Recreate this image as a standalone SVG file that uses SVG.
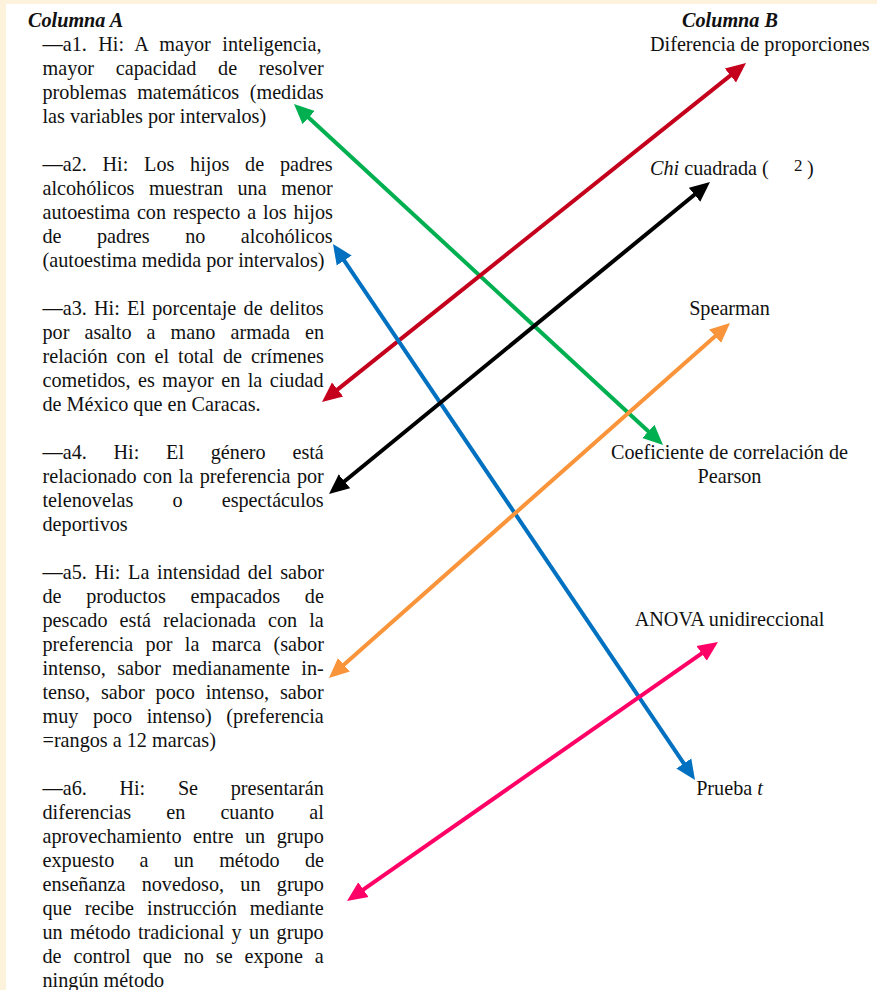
<svg xmlns="http://www.w3.org/2000/svg" width="877" height="990" viewBox="0 0 877 990">
<style>
text{font-family:"Liberation Serif","Times New Roman",serif;font-size:20.2px;fill:#111}
.h{font-weight:bold;font-style:italic}
.r{text-anchor:middle}
.c{fill:none;stroke-width:4}
</style>
<defs>
<marker id="mr" markerUnits="userSpaceOnUse" markerWidth="22" markerHeight="20" viewBox="0 -10 22 20" refX="5" refY="0" orient="auto-start-reverse"><path d="M0,-9 L20,0 L0,9 Z" fill="#C4001C"/></marker>
<marker id="mg" markerUnits="userSpaceOnUse" markerWidth="22" markerHeight="20" viewBox="0 -10 22 20" refX="5" refY="0" orient="auto-start-reverse"><path d="M0,-9 L20,0 L0,9 Z" fill="#00B050"/></marker>
<marker id="mb" markerUnits="userSpaceOnUse" markerWidth="22" markerHeight="20" viewBox="0 -10 22 20" refX="5" refY="0" orient="auto-start-reverse"><path d="M0,-9 L20,0 L0,9 Z" fill="#0070C0"/></marker>
<marker id="mk" markerUnits="userSpaceOnUse" markerWidth="22" markerHeight="20" viewBox="0 -10 22 20" refX="5" refY="0" orient="auto-start-reverse"><path d="M0,-9 L20,0 L0,9 Z" fill="#000"/></marker>
<marker id="mo" markerUnits="userSpaceOnUse" markerWidth="22" markerHeight="20" viewBox="0 -10 22 20" refX="5" refY="0" orient="auto-start-reverse"><path d="M0,-9 L20,0 L0,9 Z" fill="#F9943B"/></marker>
<marker id="mp" markerUnits="userSpaceOnUse" markerWidth="22" markerHeight="20" viewBox="0 -10 22 20" refX="5" refY="0" orient="auto-start-reverse"><path d="M0,-9 L20,0 L0,9 Z" fill="#FF0066"/></marker>
</defs>
<rect x="0" y="0" width="877" height="990" fill="#FDF3DC"/>
<rect x="6" y="4" width="871" height="986" fill="#fff"/>

<g id="headerA"><text class="h" x="28" y="27">Columna A</text></g>
<g id="headerB"><text class="h" x="682" y="27">Columna B</text></g>

<g id="a1">
<text x="42.5" y="51" style="word-spacing:6.4px">—a1. Hi: A mayor inteligencia,</text>
<text x="42.5" y="75" style="word-spacing:16.6px">mayor capacidad de resolver</text>
<text x="42.5" y="99" style="word-spacing:5.5px">problemas matemáticos (medidas</text>
<text x="42.5" y="123">las variables por intervalos)</text>
</g>
<g id="a2">
<text x="42.5" y="171" style="word-spacing:10.7px">—a2. Hi: Los hijos de padres</text>
<text x="42.5" y="195" style="word-spacing:9.5px">alcohólicos muestran una menor</text>
<text x="42.5" y="219" style="word-spacing:1.9px">autoestima con respecto a los hijos</text>
<text x="42.5" y="243" style="word-spacing:30.4px">de padres no alcohólicos</text>
<text x="42.5" y="267">(autoestima medida por intervalos)</text>
</g>
<g id="a3">
<text x="42.5" y="315" style="word-spacing:2.2px">—a3. Hi: El porcentaje de delitos</text>
<text x="42.5" y="339" style="word-spacing:10px">por asalto a mano armada en</text>
<text x="42.5" y="363" style="word-spacing:3.9px">relación con el total de crímenes</text>
<text x="42.5" y="387" style="word-spacing:2.4px">cometidos, es mayor en la ciudad</text>
<text x="42.5" y="411">de México que en Caracas.</text>
</g>
<g id="a4">
<text x="42.5" y="459" style="word-spacing:21.7px">—a4. Hi: El género está</text>
<text x="42.5" y="483" style="word-spacing:1.4px">relacionado con la preferencia por</text>
<text x="42.5" y="507" style="word-spacing:34.1px">telenovelas o espectáculos</text>
<text x="42.5" y="531">deportivos</text>
</g>
<g id="a5">
<text x="42.5" y="579" style="word-spacing:2.7px">—a5. Hi: La intensidad del sabor</text>
<text x="42.5" y="603" style="word-spacing:19.6px">de productos empacados de</text>
<text x="42.5" y="627" style="word-spacing:7px">pescado está relacionada con la</text>
<text x="42.5" y="651" style="word-spacing:7.3px">preferencia por la marca (sabor</text>
<text x="42.5" y="675" style="word-spacing:6.3px">intenso, sabor medianamente in-</text>
<text x="42.5" y="699" style="word-spacing:5.8px">tenso, sabor poco intenso, sabor</text>
<text x="42.5" y="723" style="word-spacing:9.5px">muy poco intenso) (preferencia</text>
<text x="42.5" y="747">=rangos a 12 marcas)</text>
</g>
<g id="a6">
<text x="42.5" y="795" style="word-spacing:27.6px">—a6. Hi: Se presentarán</text>
<text x="42.5" y="819" style="word-spacing:30.1px">diferencias en cuanto al</text>
<text x="42.5" y="843" style="word-spacing:6.5px">aprovechamiento entre un grupo</text>
<text x="42.5" y="867" style="word-spacing:20.2px">expuesto a un método de</text>
<text x="42.5" y="891" style="word-spacing:11.2px">enseñanza novedoso, un grupo</text>
<text x="42.5" y="915" style="word-spacing:8px">que recibe instrucción mediante</text>
<text x="42.5" y="939" style="word-spacing:2.3px">un método tradicional y un grupo</text>
<text x="42.5" y="963" style="word-spacing:6.9px">de control que no se expone a</text>
<text x="42.5" y="987">ningún método</text>
</g>

<g id="b1"><text x="650" y="51">Diferencia de proporciones</text></g>
<g id="b2"><text x="650" y="175"><tspan font-style="italic">Chi</tspan> cuadrada (</text><text x="794" y="171" style="font-size:17px">2</text><text x="807" y="175">)</text></g>
<g id="b3"><text class="r" x="729.5" y="315">Spearman</text></g>
<g id="b4"><text class="r" x="729.5" y="459">Coeficiente de correlación de</text><text class="r" x="729.5" y="483">Pearson</text></g>
<g id="b5"><text class="r" x="729.5" y="626">ANOVA unidireccional</text></g>
<g id="b6"><text class="r" x="729.5" y="795">Prueba <tspan font-style="italic">t</tspan></text></g>

<g id="connectors">
<line class="c" stroke="#00B050" x1="305" y1="114.2" x2="652" y2="434.8" marker-start="url(#mg)" marker-end="url(#mg)"/>
<line class="c" stroke="#C4001C" x1="333.7" y1="392.6" x2="734.3" y2="72.4" marker-start="url(#mr)" marker-end="url(#mr)"/>
<line class="c" stroke="#0070C0" x1="341.4" y1="256.4" x2="686.6" y2="767.6" marker-start="url(#mb)" marker-end="url(#mb)"/>
<line class="c" stroke="#000" x1="340.6" y1="484.5" x2="698.4" y2="191.5" marker-start="url(#mk)" marker-end="url(#mk)"/>
<line class="c" stroke="#F9943B" x1="340.2" y1="668.1" x2="718.8" y2="332.9" marker-start="url(#mo)" marker-end="url(#mo)"/>
<line class="c" stroke="#FF0066" x1="359.3" y1="892.4" x2="705.7" y2="650.6" marker-start="url(#mp)" marker-end="url(#mp)"/>
</g>
</svg>
